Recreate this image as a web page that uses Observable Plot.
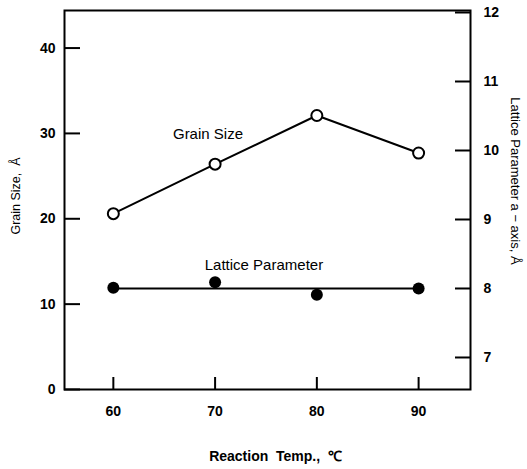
<!DOCTYPE html>
<html><head><meta charset="utf-8">
<script src="https://cdn.jsdelivr.net/npm/d3@7"></script>
<script src="https://cdn.jsdelivr.net/npm/@observablehq/plot@0.6"></script>
<style>body{margin:0;background:#fff}</style>
</head><body><div id="chart"></div>
<script>
const temps = [60, 70, 80, 90];
const grainSize = [20.6, 26.4, 32.1, 27.7];
const latticeParam = [8.01, 8.09, 7.91, 8.0];
const latticeFit = 8.0;
const xTicks = [60, 70, 80, 90];
const leftTicks = [0, 10, 20, 30, 40];
const rightTicks = [7, 8, 9, 10, 11, 12];
const xDomain = [55.2, 95.1];
const leftDomain = [0, 44.4];
const rightDomain = [6.536, 12.029];
const seriesLabels = [
  {temp: 69.3, val: 29.9, text: "Grain Size"},
  {temp: 74.8, val: 14.6, text: "Lattice Parameter"}
];

const toLeft = r => (r - rightDomain[0]) / (rightDomain[1] - rightDomain[0]) * (leftDomain[1] - leftDomain[0]) + leftDomain[0];
const grainData = temps.map((t, i) => ({temp: t, val: grainSize[i]}));
const latticeData = temps.map((t, i) => ({temp: t, val: toLeft(latticeParam[i])}));
const rightTickPos = rightTicks.map(toLeft);

const font = "Liberation Sans, Arial, Helvetica, sans-serif";

const chart = Plot.plot({
  width: 527, height: 469,
  marginLeft: 64, marginRight: 57, marginTop: 10, marginBottom: 80,
  x: {domain: xDomain},
  y: {domain: leftDomain},
  style: {fontFamily: font, color: "black", background: "white"},
  marks: [
    Plot.frame({strokeWidth: 2}),
    Plot.axisY(leftTicks, {anchor: "left", tickSize: -16, strokeWidth: 2, fill: "none", label: null}),
    Plot.axisY(leftTicks, {anchor: "left", tickSize: 0, tickPadding: 9, fontSize: 14, fontWeight: "bold", label: null}),
    Plot.axisY(rightTickPos, {anchor: "right", tickSize: -16, strokeWidth: 2, fill: "none", label: null}),
    Plot.text(rightTicks, {y: d => toLeft(d), text: d => String(d), frameAnchor: "right", dx: 13, textAnchor: "start", fontSize: 14, fontWeight: "bold"}),
    Plot.axisX(xTicks, {anchor: "bottom", tickSize: -12, strokeWidth: 2, fill: "none", label: null}),
    Plot.axisX(xTicks, {anchor: "bottom", tickSize: 0, tickPadding: 17, fontSize: 14, fontWeight: "bold", label: null}),
    Plot.line(grainData, {x: "temp", y: "val", strokeWidth: 2}),
    Plot.dot(grainData, {x: "temp", y: "val", r: 5.5, fill: "white", stroke: "black", strokeWidth: 2}),
    Plot.ruleY([toLeft(latticeFit)], {x1: temps[0], x2: temps[temps.length - 1], strokeWidth: 2}),
    Plot.dot(latticeData, {x: "temp", y: "val", r: 6, fill: "black"}),
    Plot.text(seriesLabels, {x: "temp", y: "val", text: "text", fontSize: 15}),
    Plot.text(["Grain Size,  Å"], {frameAnchor: "left", textAnchor: "middle", lineAnchor: "middle", dx: -49, dy: -4, rotate: -90, fontSize: 12.5}),
    Plot.text(["Lattice Parameter a − axis, Å"], {frameAnchor: "right", textAnchor: "middle", lineAnchor: "middle", dx: 45, dy: -19, rotate: 90, fontSize: 13}),
    Plot.text(["Reaction  Temp.,  ℃"], {frameAnchor: "bottom", dx: 8, dy: 71, fontSize: 14, fontWeight: "bold"})
  ]
});
document.getElementById("chart").appendChild(chart);
</script>
</body></html>
